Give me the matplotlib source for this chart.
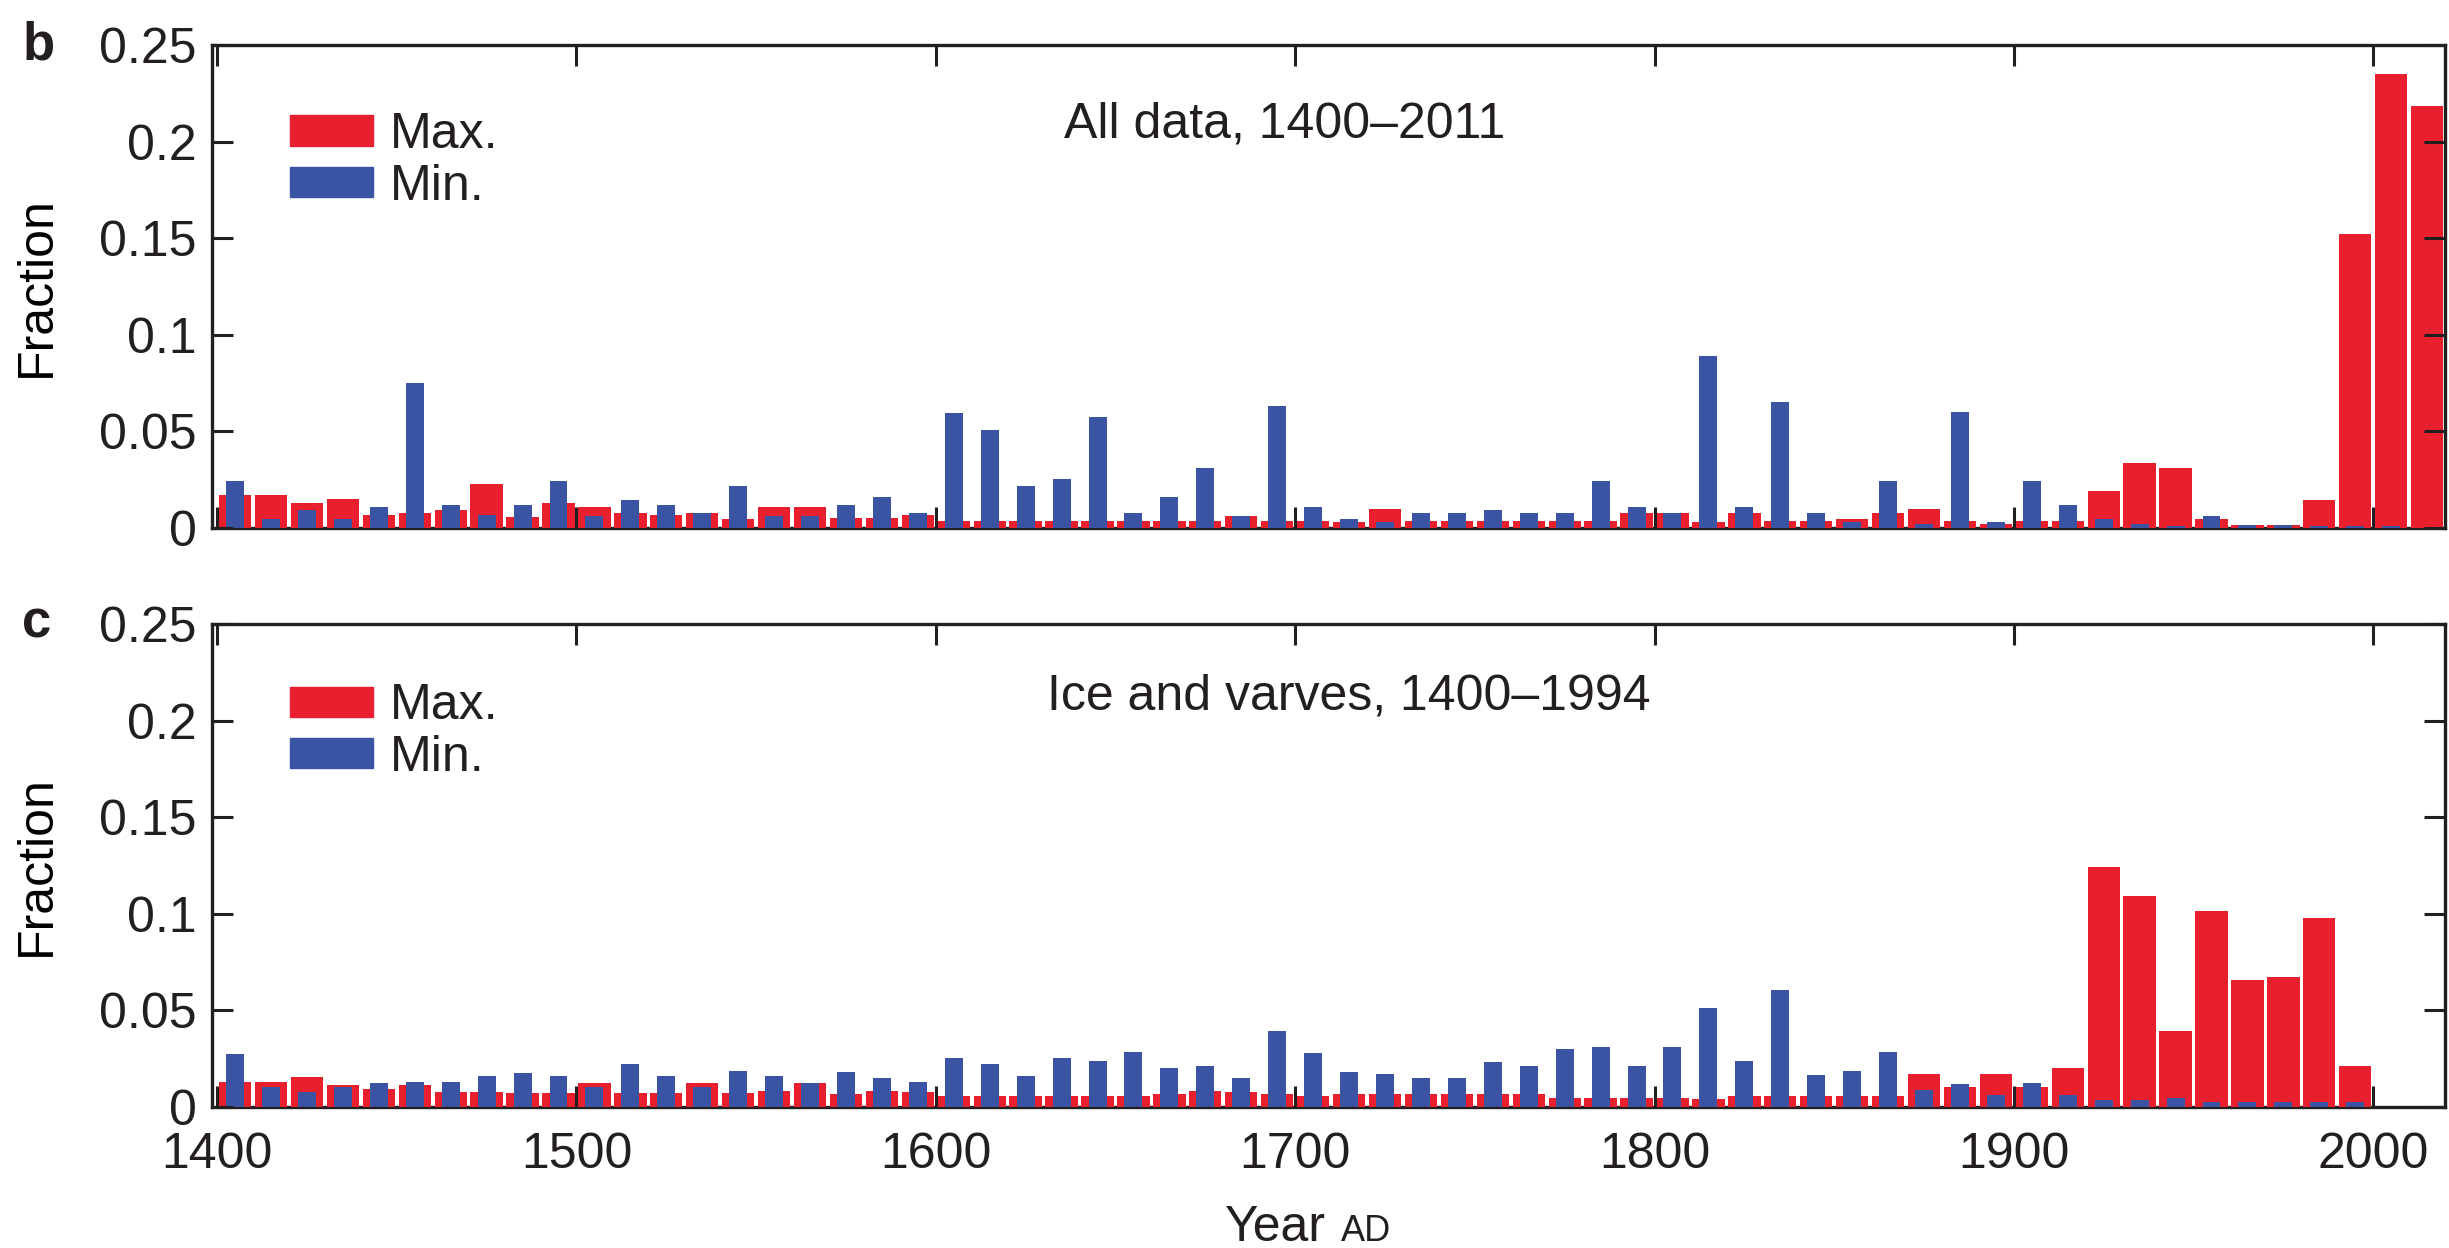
import matplotlib
matplotlib.use("Agg")
import matplotlib.pyplot as plt
from matplotlib.patches import Patch

# decade bins (start year of each decade)
decades_b = list(range(1400, 2020, 10))
decades_c = list(range(1400, 2000, 10))

# panel b: all data, 1400-2011
max_b = [0.0172, 0.0172, 0.0131, 0.0148, 0.0070, 0.0080, 0.0093, 0.0228, 0.0057, 0.0131,
         0.0107, 0.0080, 0.0070, 0.0076, 0.0048, 0.0107, 0.0107, 0.0052, 0.0052, 0.0070,
         0.0035, 0.0035, 0.0035, 0.0035, 0.0035, 0.0035, 0.0035, 0.0035, 0.0061, 0.0035,
         0.0035, 0.0030, 0.0098, 0.0035, 0.0035, 0.0035, 0.0035, 0.0035, 0.0035, 0.0076,
         0.0076, 0.0030, 0.0076, 0.0035, 0.0035, 0.0048, 0.0076, 0.0098, 0.0035, 0.0020,
         0.0035, 0.0035, 0.0190, 0.0339, 0.0310, 0.0048, 0.0015, 0.0015, 0.0144, 0.1520,
         0.2350, 0.2185]
min_b = [0.0243, 0.0048, 0.0093, 0.0048, 0.0107, 0.0752, 0.0120, 0.0070, 0.0120, 0.0243,
         0.0061, 0.0144, 0.0120, 0.0076, 0.0219, 0.0061, 0.0061, 0.0120, 0.0159, 0.0080,
         0.0593, 0.0506, 0.0219, 0.0256, 0.0576, 0.0076, 0.0159, 0.0311, 0.0061, 0.0630,
         0.0107, 0.0048, 0.0030, 0.0076, 0.0076, 0.0094, 0.0076, 0.0076, 0.0243, 0.0107,
         0.0076, 0.0890, 0.0107, 0.0654, 0.0076, 0.0030, 0.0243, 0.0020, 0.0600, 0.0030,
         0.0243, 0.0120, 0.0048, 0.0020, 0.0010, 0.0061, 0.0015, 0.0015, 0.0010, 0.0010,
         0.0010, 0.0000]

# panel c: ice and varves, 1400-1994
max_c = [0.0130, 0.0130, 0.0154, 0.0113, 0.0094, 0.0113, 0.0076, 0.0076, 0.0070, 0.0070,
         0.0126, 0.0070, 0.0070, 0.0126, 0.0070, 0.0085, 0.0126, 0.0067, 0.0085, 0.0076,
         0.0057, 0.0057, 0.0057, 0.0057, 0.0057, 0.0057, 0.0067, 0.0085, 0.0076, 0.0067,
         0.0057, 0.0067, 0.0067, 0.0067, 0.0067, 0.0067, 0.0067, 0.0048, 0.0048, 0.0048,
         0.0048, 0.0040, 0.0057, 0.0057, 0.0057, 0.0057, 0.0057, 0.0172, 0.0104, 0.0172,
         0.0104, 0.0200, 0.1240, 0.1090, 0.0394, 0.1015, 0.0659, 0.0672, 0.0980, 0.0211]
min_c = [0.0274, 0.0104, 0.0076, 0.0104, 0.0126, 0.0131, 0.0131, 0.0159, 0.0174, 0.0159,
         0.0104, 0.0224, 0.0159, 0.0104, 0.0187, 0.0159, 0.0126, 0.0183, 0.0150, 0.0131,
         0.0256, 0.0224, 0.0159, 0.0256, 0.0237, 0.0283, 0.0200, 0.0211, 0.0150, 0.0394,
         0.0280, 0.0183, 0.0172, 0.0150, 0.0150, 0.0233, 0.0211, 0.0298, 0.0311, 0.0211,
         0.0311, 0.0511, 0.0237, 0.0607, 0.0163, 0.0187, 0.0283, 0.0089, 0.0117, 0.0061,
         0.0126, 0.0061, 0.0035, 0.0035, 0.0048, 0.0024, 0.0024, 0.0024, 0.0024, 0.0024]

xticks = [1400, 1500, 1600, 1700, 1800, 1900, 2000]
yticks = [0, 0.05, 0.1, 0.15, 0.2, 0.25]
ytick_labels = ['0', '0.05', '0.1', '0.15', '0.2', '0.25']

RED = '#E8202D'
BLUE = '#3A53A3'
INK = '#231F20'
FS = 36

plt.rcParams['font.family'] = ['Liberation Sans', 'DejaVu Sans']
plt.rcParams['text.color'] = INK

fig = plt.figure(figsize=(24.49, 12.48), dpi=100)
ax_b = fig.add_axes([0.0866, 0.5769, 0.9118, 0.387])
ax_c = fig.add_axes([0.0866, 0.1130, 0.9118, 0.387])


def draw_panel(ax, decades, vmax, vmin, title, tx, ty, letter, leg_y):
    centers = [d + 5 for d in decades]
    ax.bar(centers, vmax, width=9.0, color=RED, linewidth=0, zorder=1)
    ax.bar(centers, vmin, width=5.0, color=BLUE, linewidth=0, zorder=1.1)
    ax.set_xlim(1398.6, 2020)
    ax.set_ylim(0, 0.25)
    ax.set_xticks(xticks)
    ax.set_yticks(yticks)
    ax.set_yticklabels(ytick_labels)
    ax.tick_params(direction='in', length=15, width=2.2, top=True, right=True,
                   labelsize=FS, colors=INK)
    ax.tick_params(axis='y', pad=11)
    ax.tick_params(axis='x', pad=18)
    for s in ax.spines.values():
        s.set_linewidth(2.4)
        s.set_color(INK)
    ax.spines['bottom'].set_zorder(0.5)
    ax.set_ylabel('Fraction', fontsize=FS, labelpad=28)
    ax.text(tx, ty, title, transform=ax.transAxes, fontsize=FS,
            ha='center', va='baseline')
    handles = [Patch(color=RED, label='Max.'), Patch(color=BLUE, label='Min.')]
    ax.legend(handles=handles, loc='upper left', bbox_to_anchor=(0.035, leg_y),
              frameon=False, fontsize=FS, handlelength=1.65, handleheight=0.55,
              handletextpad=0.35, labelspacing=0.11, borderaxespad=0, borderpad=0)
    ax.text(-0.085, 1.0, letter, transform=ax.transAxes, fontsize=FS + 2,
            fontweight='bold', ha='left', va='center')


draw_panel(ax_b, decades_b, max_b, min_b, 'All data, 1400\u20132011',
           0.4805, 0.8095, 'b', 0.861)
draw_panel(ax_c, decades_c, max_c, min_c, 'Ice and varves, 1400\u20131994',
           0.509, 0.822, 'c', 0.877)
ax_b.tick_params(labelbottom=False)

fig.text(1225 / 2449, 0.006, 'Year', fontsize=FS, ha='left', va='baseline')
fig.text(1341 / 2449, 0.006, 'AD', fontsize=FS - 10, ha='left', va='baseline')

fig.savefig('out.png', dpi=100)
